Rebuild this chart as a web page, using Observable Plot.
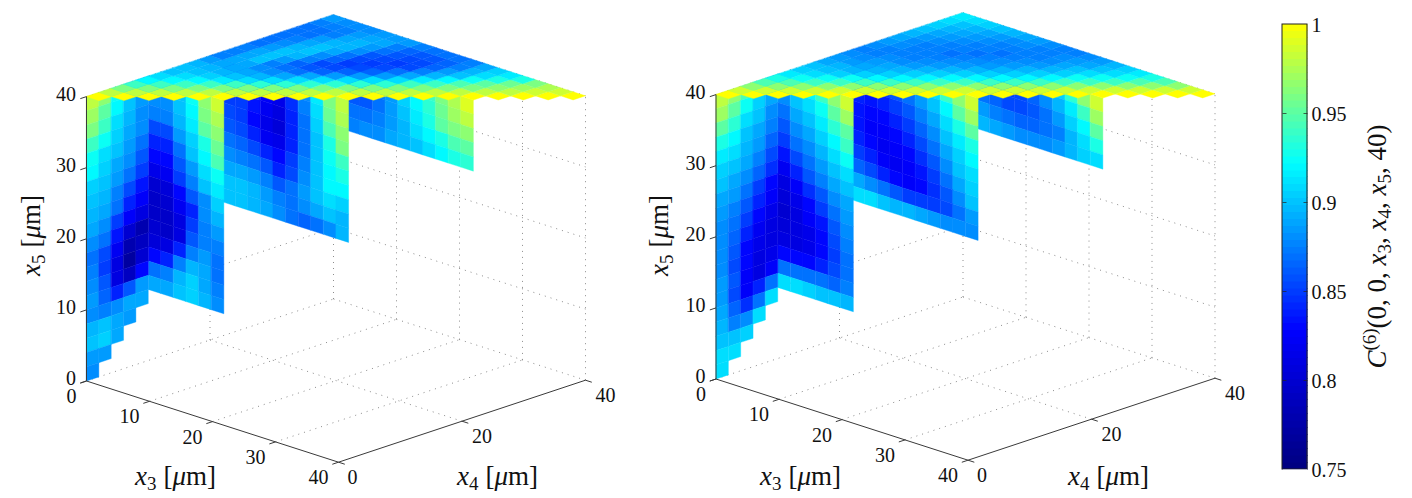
<!DOCTYPE html>
<html>
<head>
<meta charset="utf-8">
<script src="https://cdn.jsdelivr.net/npm/d3@7"></script>
<script src="https://cdn.jsdelivr.net/npm/@observablehq/plot@0.6"></script>
<style>html,body{margin:0;padding:0;background:#fff}svg{display:block}</style>
</head>
<body>
<div id="chart"></div>
<script>
// Wall rows run from x5 = 38..40 (first) downward.
const leftWallA = [
[98,96.5,92.5,90,89],[97,95,92,90,88.5],[96,94,91,89.5,88],[94,92.5,90.5,89,88],[92.5,91,90,88.5,87],
[92,90.5,89,88,86],[90.5,90,88.5,87,85],[90,89.5,87.5,85.5,83.5],[89.5,89,87,84,82.5],[89,88,85,82.5,81],
[88,87,83.5,80,78],[87,85.5,82,78,79],[87.5,85,81,77,80],[88,86,81,79,83],[88.5,86.5,84,86,88.5],
[88,87.5,88,89,89],[89.5,90,89,88.5],[90,90.5,89],[88.5,88.5],[88]];
const leftWallB = [
[88.5,89,90,92.5,96.5,98.5],[88,88,90,92,96,97.5],[87.5,87.5,89.5,91.5,95,96.5],[85.5,85.5,88.5,90.5,93,95.5],
[84,84,87,90,92,94.5],[83,83,86,88.5,91,92.5],[81.5,82,85,87.5,90,91.5],[80,80.5,83,86,88,90.5],
[79.5,80,82,84,88,89.5],[79.5,79.5,81,85,87.5,88.5],[80,79.5,81,86,87.5,87.5],[80.5,81,84,87.5,88.5,87],
[83,84,87.5,89.5,89,87],[87,87.5,89.5,90.5,89,87.5],[89,89,90,90.5,89.5,88]];
const leftWallC = [
[85,86,85,83,83,85.5,88,91.5,96,98],[85,85,84,82.5,81.5,84.5,87.5,91,95.5,97.5],
[85,85,83.5,82,81,84,87,90.5,94.5,96.5],[85.5,85,83,81.5,80.5,84,87,90,93,96],
[86,85.5,84,82,81.5,84,87,90,92.5,94],[87,86.5,85.5,84,83,85,87.5,90,92,93],
[88,87.5,87,86,84,85.5,88,90,92,92],[89,89,88.5,87.5,86,87,88.5,90,91,90.5],
[90,90,89.5,88.5,87.5,87,88,89,90,89.5],[90,90,89.5,89,88,87,86.5,87,88,89.5]];
const leftWallD = [
[85.5,86,87.5,89,91,92.5,94,96,97.5,99],[85.5,85.5,87.5,88.5,90.5,92,93.5,95.5,97,98],
[86,86,87,88.5,90,91.5,93,95,96,96.5],[87,87,87.5,88.5,89.5,91,92,93,94.5,95],
[87.5,88,88,89,89.5,90,91,92,93,93.5]];
// Top face rows: row d holds the cells with x4 - x3 = 2d, from x3 = 0 upward.
const leftTop = [
[100,100,100,100,100,100,100,100,100,100,100,100,100,100,100,100,100,100,100,100],
[98,98,98,98,98,98,98,98,98,98,98,98,98,98,98,98,98,98.5,98.5],
[96,96,96,96,96,96,96,96,96,96,96,96,96,96,96,96.5,97,97.5],
[94,94,94,94,94,93.5,93.5,93.5,93.5,93.5,93.5,94,94,94.5,95,95.5,96],
[92,92,92,91.5,91,91,91,91,91,91,91,91.5,92,92.5,93,93],
[91,91,90.5,90,89.5,89,89,88.5,88.5,88.5,89,89.5,90,91,91.5],
[90,90,89.5,89,88,87,86.5,86.5,86.5,87,87.5,88.5,89.5,90.5],
[90,89.5,89,88,87,86,85.5,85.5,85.5,85.5,86.5,87.5,89],
[89.5,89,89,87.5,86.5,85.5,85,85,85,85.5,86.5,87.5],
[88.5,89,90,88.5,87.5,86.5,85.5,85.5,85.5,86,87],
[87.5,89,90,89.5,88,87,86,86,86,87],
[87.5,89,90,90,89,88,87,86.5,87],
[87.5,88.5,89.5,90,89.5,88.5,87.5,87.5],
[87,88,89,89.5,89.5,89,88.5],
[87,87.5,88.5,89,89,88.5],
[87,87,87.5,88.5,88.5],
[87,87,87.5,88],
[87,87.5,88],
[87.5,88],
[88.5]];
const rightWallA = [
[98,96.5,94.5,92,90],[97,95,92.5,90.5,89],[95,93.5,91,90,88],[93,92,90,89,87.5],[91.5,91,89.5,88.5,86.5],
[90.5,90,89,87.5,85.5],[90,89,88,86.5,84.5],[89,88.5,87,85,83],[88.5,87.5,86,84,82.5],[88,87,85,83,81.5],
[88,86.5,84,82,81],[88,86,83,81.5,81],[88,85.5,83,81,81.5],[88.5,86,82.5,81,82.5],[88.5,85.5,82.5,84,87],
[89,86.5,84.5,87,91],[89.5,87.5,88,91],[90,90,90.5],[91,91],[91]];
const rightWallB = [
[88.5,91,92,94,96.5,98.5],[88,90,91,92.5,95,97],[87,89,90,91.5,93.5,95],[86,88,89,90.5,92,94],
[85,87,88,89.5,91,92.5],[83.5,85.5,87,88.5,90,91],[82,84,86,87.5,89,90],[81,82.5,84.5,86,88,89],
[80.5,81.5,83,85,87,88.5],[80,81,82.5,83.5,86,88],[80.5,81,81.5,83,85.5,87.5],[81,81,81.5,83,85,87],
[83,83,83,84,85.5,87],[87,87,87,87,86.5,87.5],[91,91,90.5,90,90,89.5]];
const rightWallC = [
[86,85.5,86,87,88,89.5,91,94,96.5,98.5],[85,84.5,85,86,87,88.5,90,92,95,97],
[84,83.5,84,85,86,87.5,89,91,93,95],[83.5,83,83,84,85,86.5,88,90,91.5,93],
[83.5,82.5,82.5,83,84,85.5,87,89,90.5,92],[84,83,82,82.5,83,84.5,86,88,90,91],
[85,84,82.5,82,82.5,83.5,85,87,89,90.5],[86.5,85.5,84,83,82.5,83,84.5,86,88,90],
[89,88,87,86,85,85,85,85.5,87,88.5],[91,91,90,89.5,89.5,89,88.5,88,88,88]];
const rightWallD = [
[86,85.5,86,87,87.5,89.5,90.5,93.5,96.5,98.5],[86,85.5,85,85.5,86.5,88,89.5,91.5,94,97],
[87,86.5,85.5,85.5,86,87,88.5,90.5,92,95],[88.5,87.5,87,86.5,86.5,87,87.5,89.5,91,93],
[89.5,89,88.5,88,88,88,88.5,89.5,90.5,91]];
const rightTop = [
[100,100,100,100,100,100,100,100,100,100,100,100,100,100,100,100,100,100,100,100],
[98.5,98.5,98.5,98.5,98.5,98.5,98.5,98.5,98.5,98.5,98.5,98.5,98.5,98.5,98.5,98.5,98.5,98.5,98.5],
[96.5,96.5,96.5,96.5,96.5,96.5,96.5,96.5,96.5,96.5,96.5,96.5,96.5,96.5,96.5,96.5,96.5,96.5],
[94.5,94.5,94,94,94,94,94,94,94,94,94,94,94,94,94,94.5,94.5],
[93,92.5,92.5,92.5,92,92,92,92,92,92,92,92,92.5,92.5,92.5,93],
[91.5,91,90.5,90.5,90.5,90.5,90.5,90.5,90.5,90.5,90.5,90.5,91,91,91.5],
[90.5,90,89.5,89.5,89.5,89.5,89.5,89.5,89.5,89.5,89.5,90,90,90.5],
[90,89.5,89,89,88.5,88.5,88.5,88.5,88.5,88.5,89,89,89.5],
[89,88.5,88.5,88,88,88,88,88,88,88,88.5,88.5],
[88.5,88,88,87.5,87.5,87.5,87.5,87.5,87.5,88,88],
[88,87.5,87.5,87.5,87,87,87,87.5,87.5,87.5],
[87.5,87.5,87.5,87.5,87.5,87.5,87.5,87.5,87.5],
[88,88,87.5,87.5,87.5,87.5,88,88],
[88.5,88,88,88,88,88,88.5],
[89,88.5,88.5,88.5,88.5,89],
[89.5,89,89,89,89.5],
[90,89.5,89.5,90],
[90.5,90,90.5],
[91,91],
[91.5]];

const panels = [
  {name: "left",  origin: [86, 380.5],  walls: [leftWallD, leftWallC, leftWallB, leftWallA],     top: leftTop},
  {name: "right", origin: [715.5, 378.5], walls: [rightWallD, rightWallC, rightWallB, rightWallA], top: rightTop}
];
const x3Ticks = [0, 10, 20, 30, 40];
const x4Ticks = [0, 20, 40];
const x5Ticks = [0, 10, 20, 30, 40];
const colorTicks = [0.75, 0.8, 0.85, 0.9, 0.95, 1];
const colorTickLabels = ["0.75", "0.8", "0.85", "0.9", "0.95", "1"];

// Oblique view of the box (microns -> page units of the shared plane scales).
const project = (o, x3, x4, x5) => [
  o[0] + x3 * 6.3 + x4 * 6.175,
  o[1] + x3 * 2.03 - x4 * 2.05 - x5 * 7.11
];

const polys = [];
let id = 0;
function quad(o, v, corners) {
  id++;
  for (const c of corners) {
    const [x, y] = project(o, ...c);
    polys.push({x, y, id, v: v / 100});
  }
}
for (const p of panels) {
  const o = p.origin;
  const [wD, wC, wB, wA] = p.walls;
  const wall = (rows, x4, x3Start) => rows.forEach((row, r) => row.forEach((v, c) => {
    const z = 38 - 2 * r, a = x3Start + 2 * c;
    quad(o, v, [[a, x4, z], [a + 2, x4, z], [a + 2, x4, z + 2], [a, x4, z + 2]]);
  }));
  wall(wD, 30, 12);
  wall(wC, 20, 2);
  wall(wB, 10, 0);
  wA.forEach((row, r) => row.forEach((v, c) => {
    const z = 38 - 2 * r, b = 2 * c;
    quad(o, v, [[0, b, z], [0, b + 2, z], [0, b + 2, z + 2], [0, b, z + 2]]);
  }));
  p.top.forEach((row, d) => row.forEach((v, j) => {
    const a = 2 * j, b = 2 * (j + d);
    quad(o, v, [[a, b, 40], [a + 2, b, 40], [a + 2, b + 2, 40], [a, b + 2, 40]]);
  }));
}

const grid = [], axes = [], tickLinks = [], labels = [];
for (const p of panels) {
  const o = p.origin;
  const seg = (list, a, b) => {
    const [x1, y1] = project(o, ...a), [x2, y2] = project(o, ...b);
    list.push({x1, y1, x2, y2});
  };
  for (const b of [20, 40]) seg(grid, [0, b, 0], [0, b, 40]);
  for (const a of [10, 20, 30, 40]) seg(grid, [a, 40, 0], [a, 40, 40]);
  for (const z of x5Ticks) {
    seg(grid, [0, 0, z], [0, 40, z]);
    seg(grid, [0, 40, z], [40, 40, z]);
  }
  for (const a of [10, 20, 30]) seg(grid, [a, 0, 0], [a, 40, 0]);
  seg(grid, [0, 20, 0], [40, 20, 0]);

  seg(axes, [0, 0, 0], [40, 0, 0]);
  seg(axes, [40, 0, 0], [40, 40, 0]);
  seg(axes, [0, 0, 0], [0, 0, 40]);
  for (const a of x3Ticks) seg(tickLinks, [a, 0, 0], [a, -1, 0]);
  for (const b of x4Ticks) seg(tickLinks, [40, b, 0], [41, b, 0]);
  for (const z of x5Ticks) seg(tickLinks, [0, 0, z], [0, -1, z]);

  const lab = (t, pt, dx, dy, anchor) => {
    const [x, y] = project(o, ...pt);
    labels.push({t, x: x + dx, y: y + dy, anchor});
  };
  for (const a of x3Ticks) lab(String(a), [a, 0, 0], a === 0 ? -15 : -20, a === 0 ? 16 : 15.5, "middle");
  for (const b of x4Ticks) lab(String(b), [40, b, 0], b === 0 ? 14 : 20, 15, "middle");
  for (const z of x5Ticks) lab(String(z), [0, 0, z], -10.5, -2, "end");
}

const axisTitles = [
  {t: "x3 [μm]", x: 175, y: 476, r: 0},
  {t: "x4 [μm]", x: 497, y: 476, r: 0},
  {t: "x5 [μm]", x: 31, y: 235, r: -90},
  {t: "x3 [μm]", x: 800, y: 476, r: 0},
  {t: "x4 [μm]", x: 1108, y: 476, r: 0},
  {t: "x5 [μm]", x: 659, y: 235, r: -90},
  {t: "C(6)(0,0,x3,x4,x5,40)", x: 1377, y: 246, r: -90}
];

// Colour bar: 64 steps of the colour scale, placed on the page plane.
const barTop = 24, barBottom = 469, barLeft = 1282, barRight = 1307;
const barY = v => barBottom - (v - 0.75) / 0.25 * (barBottom - barTop);
const barSteps = d3.range(64).map(i => {
  const lo = 0.75 + 0.25 * i / 64, hi = 0.75 + 0.25 * (i + 1) / 64;
  return {lo, hi, mid: (lo + hi) / 2};
});

const chart = Plot.plot({
  width: 1412, height: 498,
  marginTop: 0, marginRight: 0, marginBottom: 0, marginLeft: 0,
  style: {background: "#fff", fontFamily: "'Liberation Serif', serif", overflow: "visible"},
  x: {domain: [0, 1412], range: [0, 1412], axis: null},
  y: {domain: [0, 498], range: [0, 498], axis: null},
  color: {
    type: "linear",
    domain: [0.75, 0.828, 0.922, 1],
    range: ["#00007f", "#0000ff", "#00ffff", "#ffff00"],
    interpolate: "rgb"
  },
  marks: [
    Plot.link(grid, {x1: "x1", y1: "y1", x2: "x2", y2: "y2", stroke: "#8c8c8c", strokeWidth: 1, strokeDasharray: "1,5"}),
    Plot.line(polys, {x: "x", y: "y", z: "id", fill: "v", stroke: "v", strokeWidth: 0.4, curve: "linear-closed"}),
    Plot.link(axes, {x1: "x1", y1: "y1", x2: "x2", y2: "y2", stroke: "#3a3a3a", strokeWidth: 1}),
    Plot.link(tickLinks, {x1: "x1", y1: "y1", x2: "x2", y2: "y2", stroke: "#3a3a3a", strokeWidth: 1}),
    Plot.text(labels.filter(d => d.anchor === "middle"), {x: "x", y: "y", text: "t", fontSize: 20, fill: "#111", textAnchor: "middle"}),
    Plot.text(labels.filter(d => d.anchor === "end"), {x: "x", y: "y", text: "t", fontSize: 20, fill: "#111", textAnchor: "end"}),
    Plot.text(axisTitles.filter(d => d.r === 0), {x: "x", y: "y", text: "t", fontSize: 27, fill: "#111"}),
    Plot.text(axisTitles.filter(d => d.r !== 0), {x: "x", y: "y", text: "t", fontSize: 27, fill: "#111", rotate: -90}),
    Plot.rect(barSteps, {x1: () => barLeft, x2: () => barRight, y1: d => barY(d.hi), y2: d => barY(d.lo), fill: "mid", stroke: "mid", strokeWidth: 0.5, shapeRendering: "crispEdges"}),
    Plot.rect([0], {x1: () => barLeft, x2: () => barRight, y1: () => barTop, y2: () => barBottom, stroke: "#222", strokeWidth: 1, fill: "none"}),
    Plot.link(colorTicks.slice(1, 5), {x1: () => barLeft, x2: () => barLeft + 4, y1: barY, y2: barY, stroke: "#222", strokeOpacity: 0.7}),
    Plot.link(colorTicks.slice(1, 5), {x1: () => barRight - 4, x2: () => barRight, y1: barY, y2: barY, stroke: "#222", strokeOpacity: 0.7}),
    Plot.link([0], {x1: () => barLeft, x2: () => barRight, y1: () => barBottom, y2: () => barBottom, stroke: "#b5b5c5"}),
    Plot.text(colorTicks, {x: () => barRight + 4, y: d => barY(d) + 1.5, text: (d, i) => colorTickLabels[i], fontSize: 20, fill: "#111", textAnchor: "start"})
  ]
});

// Typeset the math in the axis titles as tspans of the same text element.
const it = s => `<tspan font-style="italic">${s}</tspan>`;
const sub = s => `<tspan dy="5" font-size="19">${s}</tspan>`;
chart.querySelectorAll("text").forEach(el => {
  const t = el.textContent;
  const m = t.match(/^x(\d) \[μm\]$/);
  if (m) {
    el.innerHTML = it("x") + sub(m[1]) + `<tspan dy="-5" dx="7">[</tspan>` + it("μ") + "m]";
  } else if (t.startsWith("C(6)")) {
    el.innerHTML = it("C") + `<tspan dy="-10" font-size="19">(6)</tspan><tspan dy="10">(0, 0, </tspan>` +
      it("x") + sub("3") + `<tspan dy="-5">, </tspan>` +
      it("x") + sub("4") + `<tspan dy="-5">, </tspan>` +
      it("x") + sub("5") + `<tspan dy="-5">, 40)</tspan>`;
  }
});
document.getElementById("chart").appendChild(chart);
</script>
</body>
</html>
